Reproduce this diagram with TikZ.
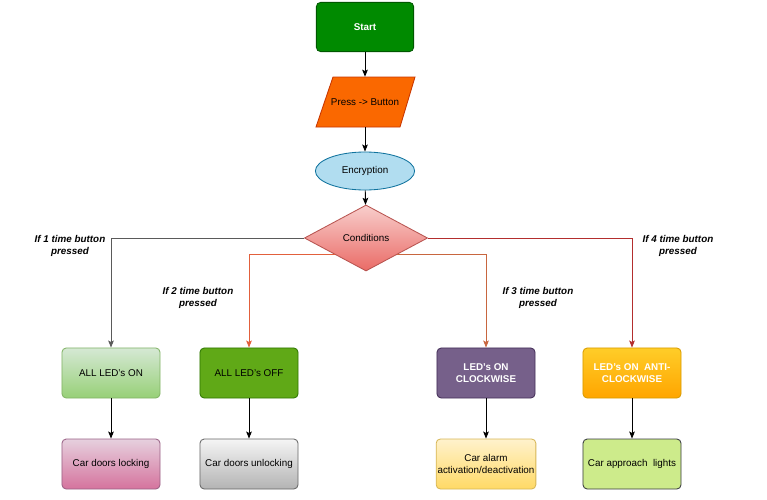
\documentclass[tikz,border=0pt]{standalone}
\usepackage{fontspec}
\setmainfont{Liberation Sans}
\usetikzlibrary{shapes.geometric,arrows.meta}
\definecolor{startfill}{HTML}{008A00}
\definecolor{startline}{HTML}{005700}
\definecolor{pressfill}{HTML}{FA6800}
\definecolor{pressline}{HTML}{C73500}
\definecolor{encfill}{HTML}{B1DDF0}
\definecolor{encline}{HTML}{10739E}
\definecolor{condtop}{HTML}{F8CECC}
\definecolor{condbottom}{HTML}{EA6B66}
\definecolor{condline}{HTML}{B85450}
\definecolor{ontop}{HTML}{D5E8D4}
\definecolor{onbottom}{HTML}{97D077}
\definecolor{online}{HTML}{82B366}
\definecolor{offfill}{HTML}{60A917}
\definecolor{offline}{HTML}{2D7600}
\definecolor{cwfill}{HTML}{76608A}
\definecolor{cwline}{HTML}{432D57}
\definecolor{acwtop}{HTML}{FFCD28}
\definecolor{acwbottom}{HTML}{FFA500}
\definecolor{acwline}{HTML}{D79B00}
\definecolor{locktop}{HTML}{E6D0DE}
\definecolor{lockbottom}{HTML}{D5739D}
\definecolor{lockline}{HTML}{996185}
\definecolor{unlocktop}{HTML}{F5F5F5}
\definecolor{unlockbottom}{HTML}{B3B3B3}
\definecolor{unlockline}{HTML}{666666}
\definecolor{alarmtop}{HTML}{FFF2CC}
\definecolor{alarmbottom}{HTML}{FFD966}
\definecolor{alarmline}{HTML}{D6B656}
\definecolor{lightfill}{HTML}{CDEB8B}
\definecolor{lightline}{HTML}{36393D}
\definecolor{linkone}{HTML}{5A5A5A}
\definecolor{linktwo}{HTML}{E2603C}
\definecolor{linkthree}{HTML}{C8663F}
\definecolor{linkfour}{HTML}{B32E2E}

\begin{document}
\begin{tikzpicture}[x=0.025cm,y=-0.025cm,
    font=\fontsize{7}{8.5}\selectfont,
    box/.style={rectangle,rounded corners=3pt,draw,line width=0.6pt,minimum width=2.45cm,minimum height=1.25cm,align=center,inner sep=1pt},
    link/.style={-{Stealth[length=5pt,width=4pt,inset=1pt]},line width=0.6pt},
    ifnote/.style={font=\fontsize{7}{8.5}\selectfont\bfseries\itshape,align=center}]
    \useasboundingbox (0,0) rectangle (767,499);
    \node[box,fill=startfill,draw=startline,text=white,font=\fontsize{7}{8.5}\selectfont\bfseries,minimum width=2.43cm,minimum height=1.23cm] (start) at (365,27) {Start};
    \filldraw[draw=pressline,fill=pressfill,line width=0.6pt] (316,127) -- (400,127) -- (415,77) -- (333,77) -- cycle;
    \node[minimum width=2.1cm,minimum height=1.25cm,inner sep=0pt] (press) at (365,102) {Press -> Button};
    \node[ellipse,draw=encline,fill=encfill,line width=0.6pt,minimum width=2.48cm,minimum height=0.95cm,inner sep=0pt] (enc) at (365,171) {Encryption};
    \node[diamond,draw=condline,top color=condtop,bottom color=condbottom,line width=0.6pt,minimum width=3.08cm,minimum height=1.65cm,inner sep=0pt] (cond) at (366,238) {Conditions};
    \node[box,draw=online,top color=ontop,bottom color=onbottom] (allon) at (111,373) {ALL LED's ON};
    \node[box,draw=offline,fill=offfill] (alloff) at (249,373) {ALL LED's OFF};
    \node[box,draw=cwline,fill=cwfill,text=white,font=\fontsize{7}{8.5}\selectfont\bfseries] (cw) at (486,373) {LED's ON\\CLOCKWISE};
    \node[box,draw=acwline,top color=acwtop,bottom color=acwbottom,text=white,font=\fontsize{7}{8.5}\selectfont\bfseries] (acw) at (632,373) {LED's ON\ \ ANTI-\\CLOCKWISE};
    \node[box,draw=lockline,top color=locktop,bottom color=lockbottom] (lock) at (111,464) {Car doors locking};
    \node[box,draw=unlockline,top color=unlocktop,bottom color=unlockbottom] (unlock) at (249,464) {Car doors unlocking};
    \node[box,draw=alarmline,top color=alarmtop,bottom color=alarmbottom] (alarm) at (486,464) {Car alarm\\activation/deactivation};
    \node[box,draw=lightline,fill=lightfill] (lights) at (632,464) {Car approach\ \ lights};
    \node[ifnote] (ifone) at (70,246) {If 1 time button\\pressed};
    \node[ifnote] (iftwo) at (198,298) {If 2 time button\\pressed};
    \node[ifnote] (ifthree) at (538,298) {If 3 time button\\pressed};
    \node[ifnote] (iffour) at (678,246) {If 4 time button\\pressed};
    \draw[link] (start) -- (press);
    \draw[link] (press) -- (enc);
    \draw[link] (enc) -- (cond);
    \draw[link,linkone] (cond.west) -| (allon.north);
    \draw[link,linktwo] (cond.south west) -| (alloff.north);
    \draw[link,linkthree] (cond.south east) -| (cw.north);
    \draw[link,linkfour] (cond.east) -| (acw.north);
    \draw[link] (allon) -- (lock);
    \draw[link] (alloff) -- (unlock);
    \draw[link] (cw) -- (alarm);
    \draw[link] (acw) -- (lights);
  \end{tikzpicture}
\end{document}
